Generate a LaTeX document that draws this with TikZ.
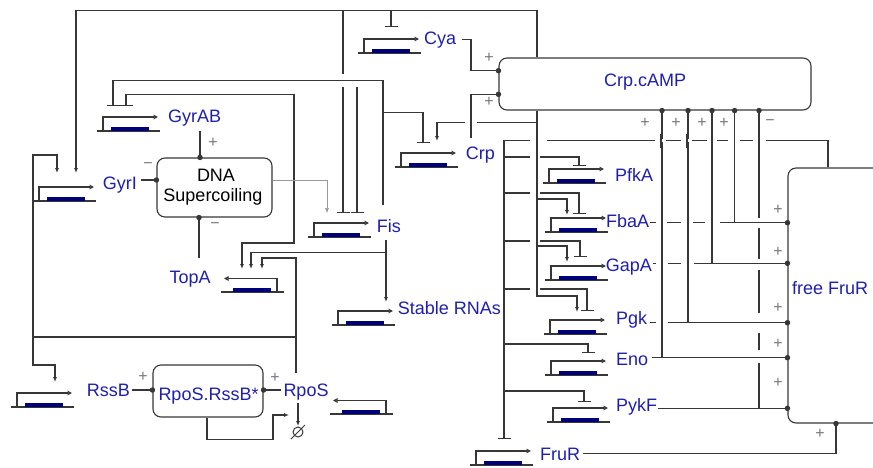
\documentclass[tikz,border=0pt]{standalone}
\usepackage{fontspec}
\setmainfont{Liberation Sans}
\usetikzlibrary{arrows.meta,calc}
\definecolor{labc}{RGB}{30,30,175}
\definecolor{barc}{RGB}{0,0,120}
\definecolor{lnc}{RGB}{55,55,55}
\definecolor{sgc}{RGB}{120,120,120}
\tikzset{
 ln/.style={draw=lnc, line width=1.1pt},
 act/.style={ln, -{Latex[length=5pt,width=4pt]}},
 inh/.style={ln, -{Bar[width=13pt]}},
 prom/.style={ln, -{Triangle[open,length=4.5pt,width=4.5pt]}},
 dotn/.style={circle, fill=lnc, inner sep=0pt, minimum size=5.5pt},
 box/.style={ln, rounded corners=8pt, inner sep=0pt},
 lab/.style={text=labc, inner sep=0pt, font=\fontsize{18}{20}\selectfont},
 blk/.style={text=black, inner sep=0pt, font=\fontsize{18}{20}\selectfont},
 sgn/.style={text=sgc, inner sep=0pt, font=\fontsize{16}{16}\selectfont},
}
\newcommand\genef[2]{%
 \draw[ln] (#1,#2) -- ++(63,0);
 \fill[barc] (#1+14,#2-4.5) rectangle (#1+52,#2);
 \draw[prom] (#1+6,#2) -- ++(0,-14) -- ++(55,0);}
\newcommand\gener[2]{%
 \draw[ln] (#1,#2) -- ++(63,0);
 \fill[barc] (#1+12,#2-4.5) rectangle (#1+50,#2);
 \draw[prom] (#1+56,#2) -- ++(0,-13.5) -- ++(-53,0);}
% break a horizontal line at a vertical one
\newcommand\hgap[4]{%
 \draw[white, line width=3pt] (#1-#3,#2) -- (#1+#4,#2);
 \draw[ln] (#1,#2-7) -- (#1,#2+7);}
% break a vertical line at a horizontal one
\newcommand\vgap[4]{%
 \draw[white, line width=3pt] (#1,#2-#3) -- (#1,#2+#4);
 \draw[ln] (#1-7,#2) -- (#1+7,#2);}
\begin{document}
\begin{tikzpicture}[x=1pt,y=-1pt]
\useasboundingbox (0,0) rectangle (873,467);
\clip (0,0) rectangle (873,467);

% ---------- boxes
\node[box, minimum width=115pt, minimum height=59pt] (dna) at (214.5,187.5) {};
\node[blk, anchor=base] (dnat1) at (216,181.7) {DNA};
\node[blk, anchor=base] (dnat2) at (213,201.7) {Supercoiling};
\node[box, minimum width=312pt, minimum height=52pt] (camp) at (655,84) {};
\node[lab, anchor=base west] (campt) at (604,86.7) {Crp.cAMP};
\node[box, minimum width=120pt, minimum height=255pt] (ffrur) at (848,295.5) {};
\node[lab, anchor=base west] (ffrurt) at (792,294) {free FruR};
\node[box, minimum width=110pt, minimum height=52pt] (cplx) at (208,391) {};
\node[lab, anchor=base west] (cplxt) at (158.3,400.7) {RpoS.RssB*};

% ---------- genes
\genef{358}{53}
\genef{97}{131}
\genef{33}{201}
\genef{395}{167}
\genef{308}{237}
\gener{221}{292}
\genef{332}{325}
\genef{11}{407}
\gener{330}{414}
\genef{543}{183}
\genef{545}{232}
\genef{545}{280}
\genef{544}{334}
\genef{545}{375}
\genef{547}{422}
\genef{470}{465}

\node[lab, anchor=base west] (cya) at (424,44.3) {Cya};
\node[lab, anchor=base west] (gyrab) at (168,122.7) {GyrAB};
\node[lab, anchor=base west] (gyri) at (102.7,189.5) {GyrI};
\node[lab, anchor=base west] (crp) at (465.7,159) {Crp};
\node[lab, anchor=base west] (fis) at (376.7,232.7) {Fis};
\node[lab, anchor=base west] (topa) at (169.3,283.3) {TopA};
\node[lab, anchor=base west] (rrn) at (397.7,314.3) {Stable RNAs};
\node[lab, anchor=base west] (rssb) at (86.7,396) {RssB};
\node[lab, anchor=base west] (rpos) at (283.3,396) {RpoS};
\node[lab, anchor=base west] (pfka) at (615,181) {PfkA};
\node[lab, anchor=base west] (fbaa) at (606,227.3) {FbaA};
\node[lab, anchor=base west] (gapa) at (605.7,271.7) {GapA};
\node[lab, anchor=base west] (pgk) at (616,324.3) {Pgk};
\node[lab, anchor=base west] (eno) at (616,365) {Eno};
\node[lab, anchor=base west] (pykf) at (616,411) {PykF};
\node[lab, anchor=base west] (frur) at (540,460) {FruR};

% ---------- top loop from Crp.cAMP
\draw[act] (camp.north -| 537,0) -- (537,10.7) -- (76,10.7) -- (76,173);
\draw[inh] (343,10.7) -- (343,213);
\draw[inh] (391,10.7) -- (391,27);

% ---------- Fis
\draw[inh] (383,205) -- (383,80.7) -- (113,80.7) -- (113,106);
\draw[inh] (383,112.7) -- (423,112.7) -- (423,143);
\draw[inh] (357,87) -- (357,213);
\draw[act] (386,240) -- (386,302);
\draw[act] (386,252.7) -- (251,252.7) -- (251,269);

% ---------- GyrAB / TopA line
\draw[ln, {Bar[width=13pt]}-{Latex[length=5pt,width=4pt]}] (126,106) -- (126,94.3) -- (294,94.3) -- (294,243) -- (242,243) -- (242,269);

% ---------- RpoS
\draw[act] (296,373) -- (296,258) -- (262,258) -- (262,269);
\draw[ln] (296,337) -- (33,337);
\draw[act] (33,337) -- (33,155) -- (57,155) -- (57,173);
\draw[act] (33,337) -- (33,365) -- (55,365) -- (55,382);

% ---------- DNA supercoiling
\draw[ln] (200,131) -- (dna.north -| 200,0) node[dotn] (d1) {};
\draw[ln] (199,258) -- (dna.south -| 199,0) node[dotn] (d2) {};
\draw[ln] (141,180) -- (dna.west |- 0,180) node[dotn] (d3) {};
\draw[act, line width=0.6pt, draw=gray!80] (dna.east |- 0,180) -- (327,180) -- (327,213);

% ---------- Cya, Crp -> Crp.cAMP
\draw[ln] (462,39.3) -- (471,39.3) -- (471,70.7) -- (camp.west |- 0,70.7) node[dotn] (d4) {};
\draw[ln] (471,138) -- (471,94.3) -- (camp.west |- 0,94.3) node[dotn] (d5) {};
\draw[act] (537,122.7) -- (437,122.7) -- (437,141);

% ---------- Crp.cAMP bus to glycolytic genes
\draw[act] (camp.south -| 537,0) -- (537,296) -- (577,296) -- (577,312);
\draw[act] (537,199) -- (567,199) -- (567,215);
\draw[act] (537,246) -- (567,246) -- (567,262);

% ---------- free FruR bus
\draw[inh] (ffrur.north -| 828,0) -- (828,140.7) -- (504,140.7) -- (504,439);
\draw[inh] (504,157) -- (579,157) -- (579,166);
\draw[inh] (504,193) -- (579,193) -- (579,214);
\draw[inh] (504,241) -- (580,241) -- (580,257);
\draw[inh] (504,289) -- (587,289) -- (587,311);
\draw[inh] (504,344) -- (588,344) -- (588,353);
\draw[inh] (504,391) -- (584,391) -- (584,402);

% ---------- glycolytic products -> Crp.cAMP and free FruR
\draw[ln] (734.6,222.7) -- (camp.south -| 734.6,0) node[dotn] (d6) {};
\draw[ln] (712,263.3) -- (camp.south -| 712,0) node[dotn] (d7) {};
\draw[ln] (688,322.7) -- (camp.south -| 688,0) node[dotn] (d8) {};
\draw[ln] (662,357.7) -- (camp.south -| 662,0) node[dotn] (d9) {};
\draw[ln] (759,408.3) -- (camp.south -| 759,0) node[dotn] (d10) {};
\draw[ln] (650,222.7) -- (ffrur.west |- 0,222.7) node[dotn] (d11) {};
\draw[ln] (653,263.3) -- (ffrur.west |- 0,263.3) node[dotn] (d12) {};
\draw[ln] (650,322.7) -- (ffrur.west |- 0,322.7) node[dotn] (d13) {};
\draw[ln] (652,357.7) -- (ffrur.west |- 0,357.7) node[dotn] (d14) {};
\draw[ln] (658,408.3) -- (ffrur.west |- 0,408.3) node[dotn] (d15) {};
\draw[ln] (583,453.3) -- (836,453.3) -- (ffrur.south -| 836,0) node[dotn] (d16) {};

% ---------- RpoS.RssB* complex
\draw[ln] (132,390) -- (cplx.west |- 0,390) node[dotn] (d17) {};
\draw[ln] (281,390) -- (cplx.east |- 0,390) node[dotn] (d18) {};
\draw[act] (cplx.south -| 207,0) -- (207,439.3) -- (273,439.3) -- (273,415) -- (289,415);
\draw[act] (298,403) -- (298,426);
\draw[ln, line width=1pt] (298,432) circle (5);
\draw[ln, line width=1pt] (291,439) -- (305,425);

% ---------- crossings
\vgap{343}{80.7}{6.7}{6.3}
\hgap{471}{122.7}{6}{6}
\hgap{537}{140.7}{7}{10}
\hgap{661}{140.7}{6}{5}
\hgap{687}{140.7}{6}{5}
\hgap{712}{140.7}{5}{5}
\hgap{734.6}{140.7}{7}{5}
\hgap{759}{140.7}{6}{7}
\hgap{537}{157}{7}{3}
\hgap{537}{193}{7}{3}
\hgap{537}{241}{7}{3}
\hgap{537}{289}{7}{3}
\hgap{662}{222.7}{6}{5}
\hgap{688}{222.7}{7}{5}
\hgap{712}{222.7}{7}{8}
\hgap{662}{263.3}{6}{6}
\hgap{688}{263.3}{7}{6}
\hgap{662}{322.7}{6}{6}
\vgap{759}{222.7}{5}{5}
\vgap{759}{263.3}{4.5}{6.5}
\vgap{759}{322.7}{10}{10}
\vgap{759}{357.7}{7.5}{5.5}

% ---------- signs
\node[sgn] (s1) at (489,58) {+};
\node[sgn] (s2) at (489,101.7) {+};
\node[sgn] (s3) at (213,143) {+};
\node[sgn] (s4) at (215,226) {−};
\node[sgn] (s5) at (148,166) {−};
\node[sgn] (s6) at (143,377) {+};
\node[sgn] (s7) at (275,378) {+};
\node[sgn] (s8) at (645,122.7) {+};
\node[sgn] (s9) at (676,122.7) {+};
\node[sgn] (s10) at (702,122.7) {+};
\node[sgn] (s11) at (724,122.7) {+};
\node[sgn] (s12) at (770,122.7) {−};
\node[sgn] (s13) at (778,210) {+};
\node[sgn] (s14) at (778,252) {+};
\node[sgn] (s15) at (778,308) {+};
\node[sgn] (s16) at (778,344) {+};
\node[sgn] (s17) at (778,383) {+};
\node[sgn] (s18) at (820,434) {+};
\end{tikzpicture}
\end{document}
